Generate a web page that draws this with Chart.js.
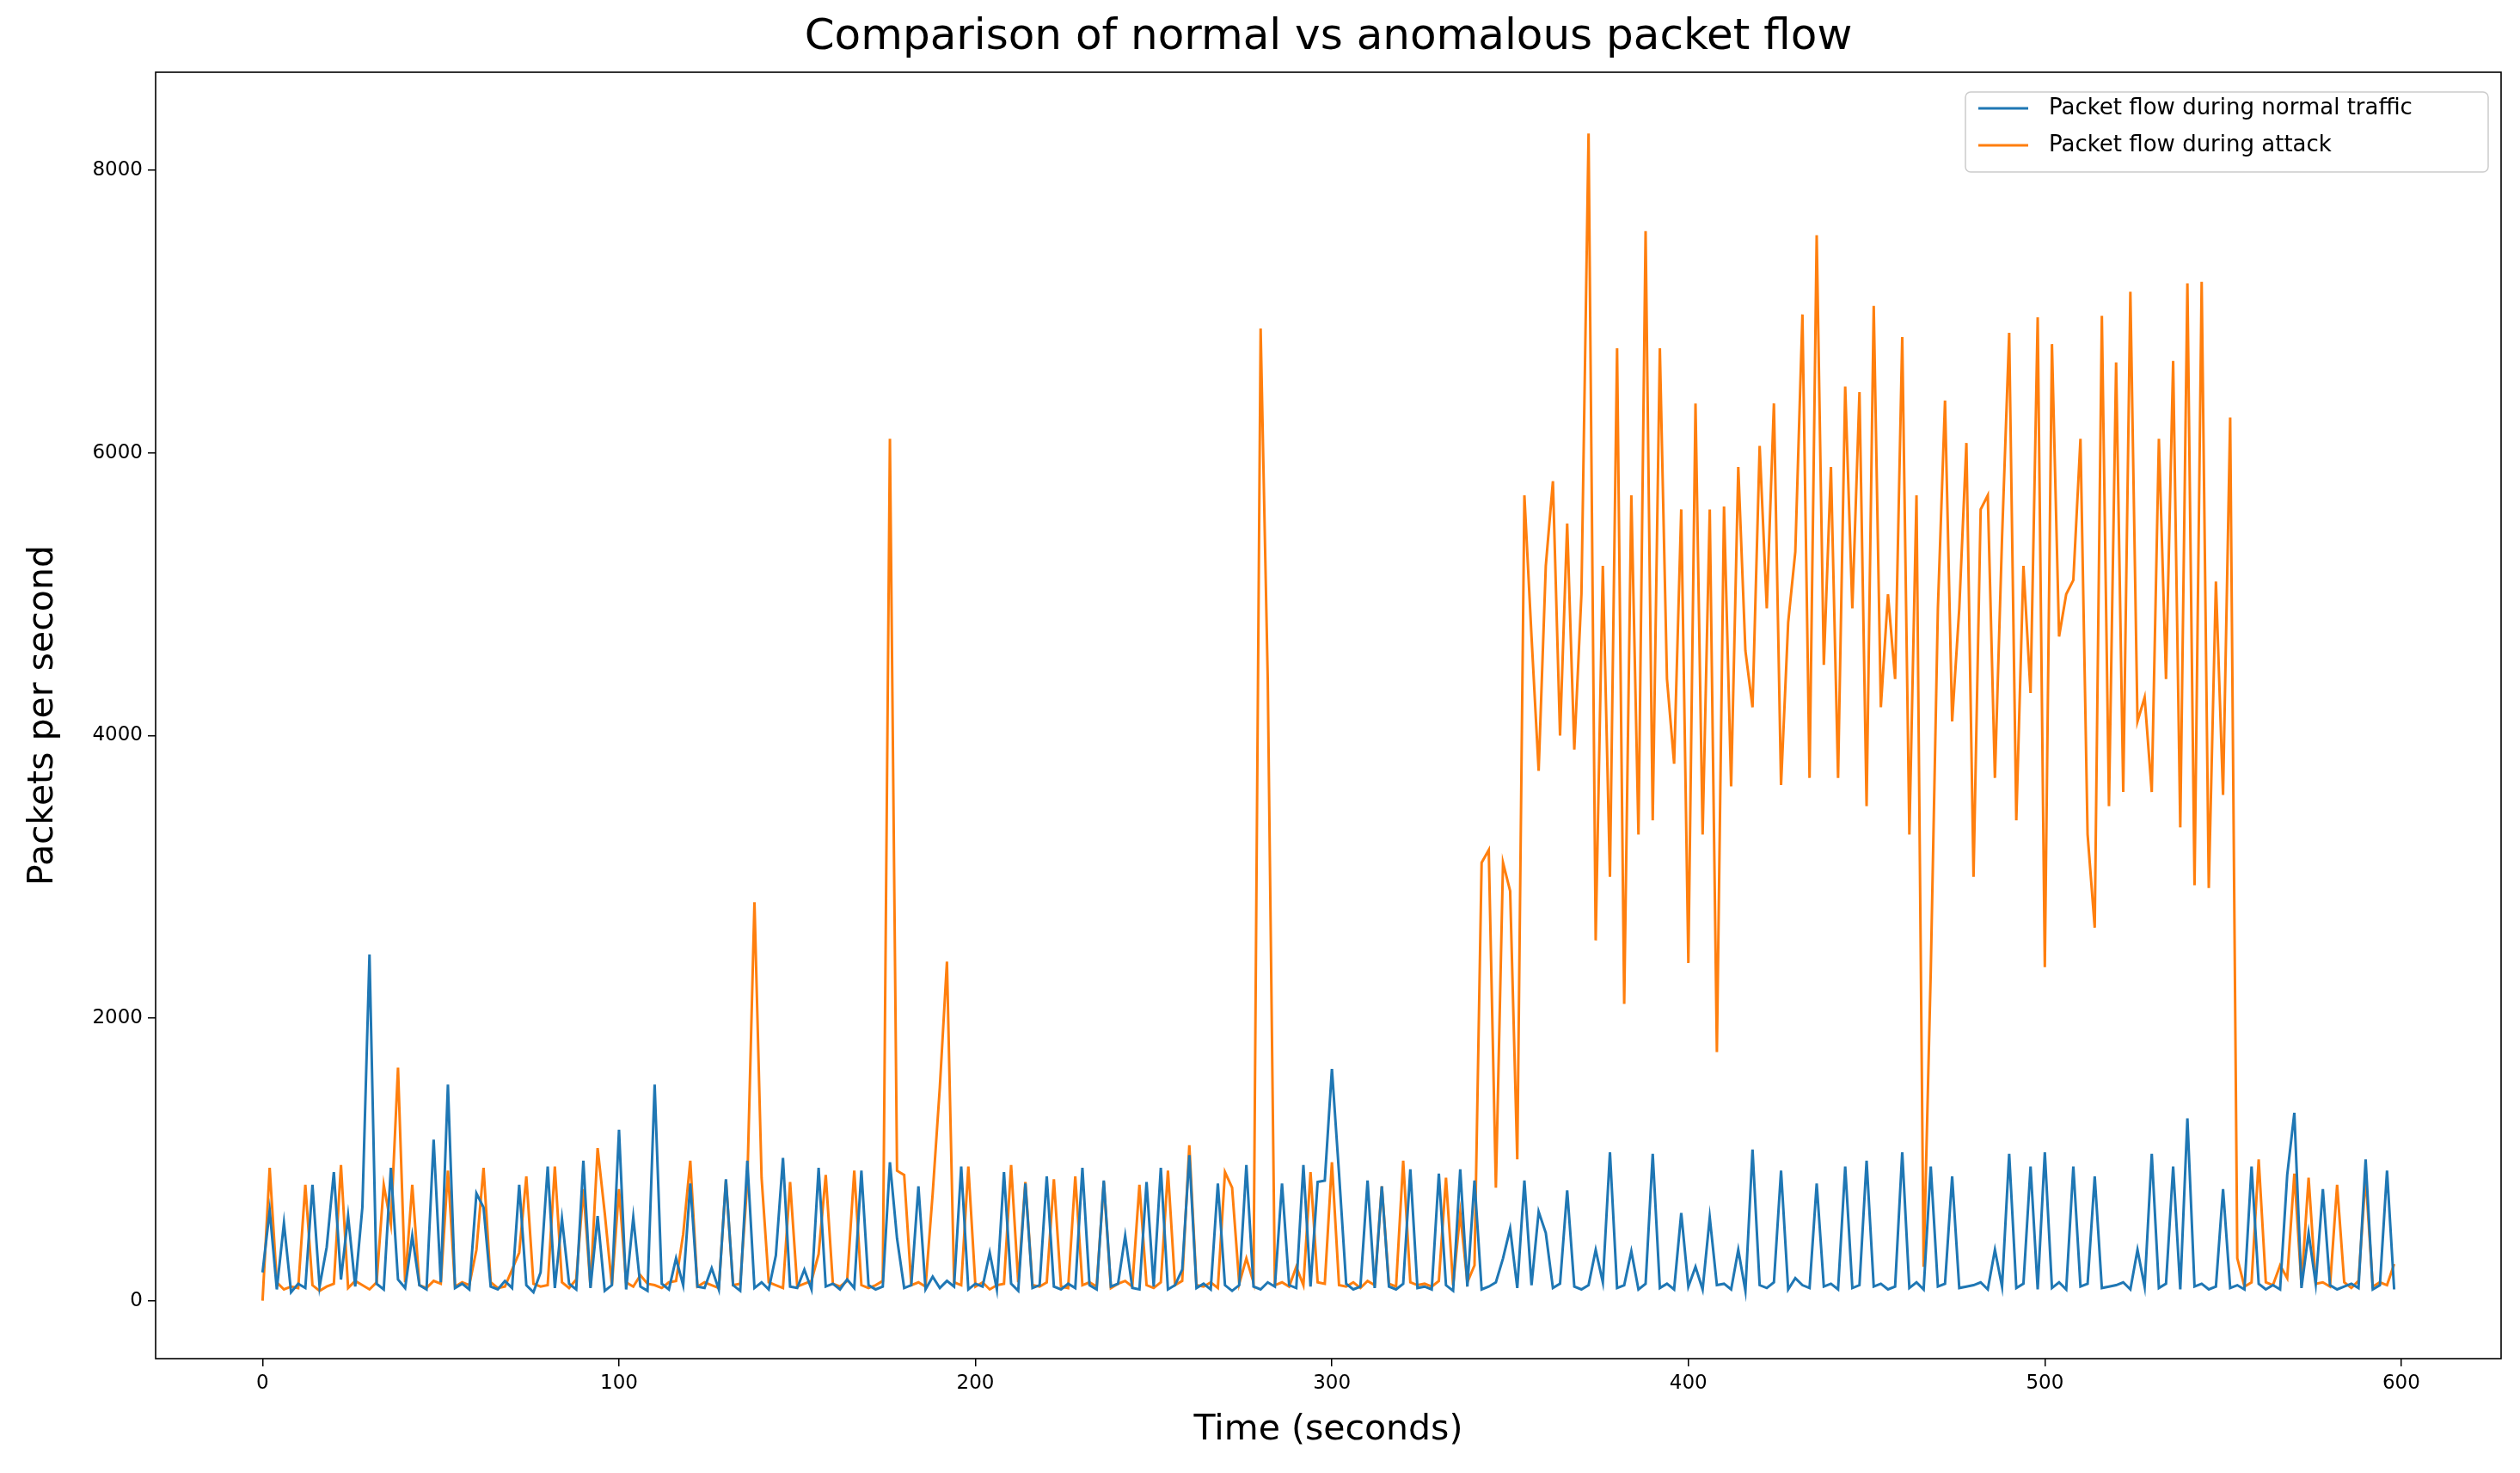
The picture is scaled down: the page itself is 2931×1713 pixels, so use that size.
<!DOCTYPE html>
<html>
<head>
<meta charset="utf-8">
<script src="https://cdn.jsdelivr.net/npm/chart.js@4"></script>
<style>
  html, body { margin: 0; padding: 0; background: #fff; }
  #wrap { width: 2931px; height: 1713px; }
</style>
</head>
<body>
<div id="wrap"><canvas id="flowChart"></canvas></div>
<script>
const timeStep = 2;
const normalFlow = [
  200,640,80,550,60,120,90,820,100,380,
  910,150,600,100,660,2450,120,80,940,150,
  90,460,110,80,1140,130,1530,90,120,80,
  760,660,100,80,140,90,820,110,60,200,
  950,90,580,120,80,990,90,600,70,110,
  1210,80,590,100,70,1530,120,80,300,110,
  830,100,90,230,80,860,110,70,990,90,
  130,80,320,1010,100,90,220,80,940,100,
  120,80,150,90,920,110,80,100,980,440,
  90,110,810,80,170,90,140,100,950,80,
  120,100,340,80,910,120,70,830,90,110,
  880,100,80,120,90,940,110,80,850,100,
  120,460,90,80,840,100,940,80,110,220,
  1030,90,120,80,830,110,70,110,960,100,
  80,130,100,830,110,90,960,100,840,850,
  1640,900,120,80,100,850,90,810,100,80,
  120,930,90,100,80,900,110,70,930,100,
  850,80,100,130,300,510,90,850,110,630,
  480,90,120,780,100,80,110,360,130,1050,
  90,110,350,80,120,1040,90,120,80,620,
  100,240,80,590,110,120,80,360,70,1070,
  110,90,130,920,80,160,110,90,830,100,
  120,80,950,90,110,990,100,120,80,100,
  1050,90,130,80,950,100,120,880,90,100,
  110,130,80,360,100,1040,90,120,950,80,
  1050,90,130,80,950,100,120,880,90,100,
  110,130,80,360,100,1040,90,120,950,80,
  1290,100,120,80,100,790,90,110,80,950,
  120,80,110,80,890,1330,90,480,120,790,
  110,80,100,120,90,1000,80,110,920,80
];
const attackFlow = [
  0,940,130,80,100,90,820,110,70,100,
  120,960,90,140,110,80,130,820,540,1650,
  130,820,110,90,140,120,920,100,130,110,
  360,940,130,90,100,220,340,880,120,100,
  110,950,130,90,150,790,100,1080,620,110,
  790,130,100,180,120,110,90,130,140,470,
  990,100,130,110,90,850,110,120,840,2820,
  870,130,110,90,840,100,120,140,330,890,
  120,100,140,920,110,90,110,140,6100,920,
  890,110,130,100,760,1510,2400,130,110,950,
  100,130,80,110,120,960,130,840,110,100,
  130,860,100,90,880,110,130,100,840,90,
  120,140,100,820,110,90,130,920,110,140,
  1100,110,100,130,90,910,800,120,300,130,
  6880,4400,110,130,100,240,110,910,130,120,
  980,110,100,130,90,140,110,810,120,100,
  990,130,110,120,100,140,870,110,620,130,
  250,3100,3190,800,3100,2900,1000,5700,4700,3750,
  5200,5800,4000,5500,3900,5000,8260,2550,5200,3000,
  6740,2100,5700,3300,7570,3400,6740,4400,3800,5600,
  2390,6350,3300,5600,1760,5620,3640,5900,4600,4200,
  6050,4900,6350,3650,4800,5300,6980,3700,7540,4500,
  5900,3700,6470,4900,6430,3500,7040,4200,5000,4400,
  6820,3300,5700,240,2330,4900,6370,4100,4900,6070,
  3000,5600,5700,3700,5400,6850,3400,5200,4300,6960,
  2360,6770,4700,5000,5100,6100,3300,2640,6970,3500,
  6640,3600,7140,4100,4270,3600,6100,4400,6650,3350,
  7200,2940,7210,2920,5090,3580,6250,300,100,130,
  1000,130,110,250,160,900,110,870,120,130,
  100,820,130,90,140,880,100,130,110,260
];
const xTicks = [0, 100, 200, 300, 400, 500, 600];
const yTicks = [0, 2000, 4000, 6000, 8000];
const seriesLabels = ['Packet flow during normal traffic', 'Packet flow during attack'];
const seriesColors = ['#1f77b4', '#ff7f0e'];

const toPoints = arr => arr.map((v, i) => ({ x: i * timeStep, y: v }));

// Frame, title, axis titles and legend box drawn by hand (matplotlib look)
const decorations = {
  id: 'decorations',
  afterDraw(chart) {
    const c = chart.ctx, a = chart.chartArea;
    c.save();
    c.strokeStyle = '#000';
    c.lineWidth = 1.6;
    c.strokeRect(a.left, a.top, a.right - a.left, a.bottom - a.top);

    c.fillStyle = '#000';
    c.textAlign = 'center';
    c.textBaseline = 'middle';
    c.font = '50px "DejaVu Sans"';
    c.fillText('Comparison of normal vs anomalous packet flow', (a.left + a.right) / 2, 44);
    c.font = '41px "DejaVu Sans"';
    c.fillText('Time (seconds)', (a.left + a.right) / 2, 1663);
    c.translate(50, (a.top + a.bottom) / 2);
    c.rotate(-Math.PI / 2);
    c.fillText('Packets per second', 0, 0);
    c.restore();

    // legend
    c.save();
    const bx = 2286, by = 107, bw = 608, bh = 93;
    c.fillStyle = 'rgba(255,255,255,0.8)';
    c.strokeStyle = '#ccc';
    c.lineWidth = 1.5;
    c.beginPath();
    c.roundRect(bx, by, bw, bh, 6);
    c.fill();
    c.stroke();
    c.font = '26px "DejaVu Sans"';
    c.textAlign = 'left';
    c.textBaseline = 'middle';
    seriesLabels.forEach((lab, i) => {
      const y = 126 + i * 43;
      c.strokeStyle = seriesColors[i];
      c.lineWidth = 3;
      c.beginPath();
      c.moveTo(2301, y);
      c.lineTo(2359, y);
      c.stroke();
      c.fillStyle = '#000';
      c.fillText(lab, 2383, y);
    });
    c.restore();
  }
};

new Chart(document.getElementById('flowChart'), {
  type: 'line',
  data: {
    datasets: [
      { label: seriesLabels[0], data: toPoints(normalFlow), borderColor: seriesColors[0] },
      { label: seriesLabels[1], data: toPoints(attackFlow), borderColor: seriesColors[1] }
    ]
  },
  options: {
    responsive: true,
    maintainAspectRatio: false,
    animation: false,
    devicePixelRatio: 1,
    elements: {
      point: { radius: 0 },
      line: { borderWidth: 3, tension: 0 }
    },
    layout: { padding: { top: 84, right: 22, left: 0, bottom: 0 } },
    plugins: { legend: { display: false }, tooltip: { enabled: false } },
    scales: {
      x: {
        type: 'linear',
        min: -30,
        max: 628,
        afterFit: s => { s.height = 133; },
        afterBuildTicks: s => { s.ticks = xTicks.map(v => ({ value: v })); },
        grid: { drawOnChartArea: false, color: '#000', tickLength: 9, lineWidth: 1.5 },
        border: { display: false },
        ticks: { color: '#000', font: { family: 'DejaVu Sans', size: 23 }, padding: 6, maxRotation: 0, callback: v => String(v) }
      },
      y: {
        type: 'linear',
        min: -410,
        max: 8694,
        afterFit: s => { s.width = 181; },
        afterBuildTicks: s => { s.ticks = yTicks.map(v => ({ value: v })); },
        grid: { drawOnChartArea: false, color: '#000', tickLength: 9, lineWidth: 1.5 },
        border: { display: false },
        ticks: { color: '#000', font: { family: 'DejaVu Sans', size: 23 }, padding: 6, callback: v => String(v) }
      }
    }
  },
  plugins: [decorations]
});
</script>
</body>
</html>
